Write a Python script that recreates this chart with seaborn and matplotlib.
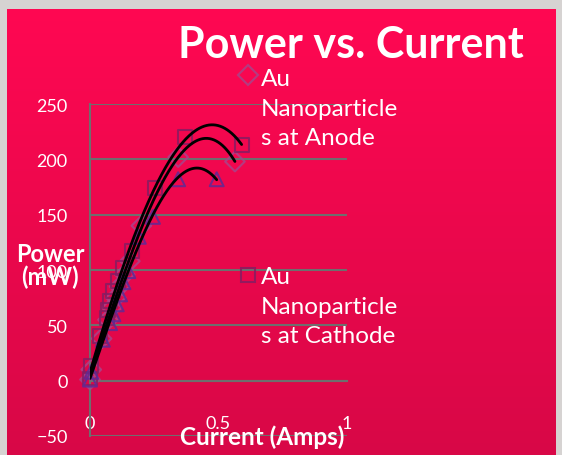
import numpy as np
import pandas as pd
import matplotlib.pyplot as plt
import seaborn as sns
from matplotlib.lines import Line2D
from matplotlib.colors import LinearSegmentedColormap

# data (current in A, power in mW)
anode_x = [0.0, 0.005, 0.045, 0.07, 0.085, 0.1, 0.115, 0.135, 0.155, 0.2, 0.343, 0.564]
anode_y = [1, 10, 38, 55, 66, 75, 85, 96, 108, 140, 202, 198]
cathode_x = [0.0, 0.005, 0.039, 0.065, 0.071, 0.078, 0.091, 0.11, 0.13, 0.162, 0.253, 0.37, 0.59]
cathode_y = [2, 13, 40, 57, 64, 72, 81, 90, 102, 117, 174, 220, 213]
third_x = [0.0, 0.005, 0.05, 0.078, 0.091, 0.104, 0.117, 0.13, 0.149, 0.19, 0.245, 0.343, 0.493]
third_y = [1, 8, 37, 52, 60, 69, 78, 89, 99, 130, 148, 182, 182]

x_ticks = [0, 0.5, 1]
y_ticks = [-50, 0, 50, 100, 150, 200, 250]

sns.set_style("white")
plt.rcParams['font.family'] = ['Lato', 'DejaVu Sans']

W, H = 562, 456
fig = plt.figure(figsize=(W / 100, H / 100), dpi=100)
fig.patch.set_facecolor('#d6d3d2')

# pink panel with a soft vertical gradient
bg = fig.add_axes([7 / W, 0, 549 / W, 446 / H], zorder=0)
grad = np.linspace(0, 1, 256).reshape(-1, 1)
cmap = LinearSegmentedColormap.from_list('panel', ['#ff0752', '#d80847'])
bg.imshow(grad, aspect='auto', cmap=cmap, extent=[0, 1, 0, 1], origin='upper')
bg.axis('off')

ax = fig.add_axes([90 / W, 19 / H, 257 / W, 332 / H], zorder=1)
ax.set_facecolor('none')

grid_c = '#6e6e6e'
series = [
    (anode_x, anode_y, 'D', '#a8458a'),
    (cathode_x, cathode_y, 's', '#861d62'),
    (third_x, third_y, '^', '#5e2a96'),
]
for xs, ys, mk, col in series:
    df = pd.DataFrame({'I': xs, 'P': ys})
    sns.scatterplot(data=df, x='I', y='P', marker=mk, s=100, facecolor='none',
                    edgecolor=col, linewidth=1.5, alpha=0.85, ax=ax, clip_on=False, zorder=3)
    # polynomial trendline
    coef = np.polyfit(xs, ys, 3)
    xf = np.linspace(min(xs), max(xs), 200)
    fit = pd.DataFrame({'I': xf, 'P': np.polyval(coef, xf)})
    sns.lineplot(data=fit, x='I', y='P', color='black', lw=2, ax=ax, zorder=4)

ax.set_xlim(0, 1)
ax.set_ylim(-50, 250)
ax.set_xticks(x_ticks)
ax.set_xticklabels(['0', '0.5', '1'])
ax.set_yticks(y_ticks)
ax.grid(axis='y', color=grid_c, lw=1.5)
ax.grid(axis='x', visible=False)
for s in ['top', 'right']:
    ax.spines[s].set_visible(False)
ax.spines['left'].set_color(grid_c)
ax.spines['left'].set_linewidth(1.5)
ax.spines['bottom'].set_position(('data', 0))
ax.spines['bottom'].set_color(grid_c)
ax.spines['bottom'].set_linewidth(1.5)
ax.tick_params(axis='x', direction='out', length=5, width=1.5, color=grid_c,
               labelcolor='white', labelsize=13, pad=20)
ax.tick_params(axis='y', direction='out', length=7, width=1.5, color=grid_c,
               labelcolor='white', labelsize=13, pad=9)
ax.set_xlabel('')
ax.set_ylabel('')

# titles and axis labels
fig.text(351 / W, 1 - 45 / H, 'Power vs. Current', ha='center', va='center',
         fontsize=31, fontweight='bold', color='white')
fig.text(50 / W, 1 - 266 / H, 'Power\n(mW)', ha='center', va='center',
         fontsize=17, fontweight='bold', color='white', linespacing=1.0, zorder=5)
fig.text(262 / W, 1 - 437 / H, 'Current (Amps)', ha='center', va='center',
         fontsize=17.5, fontweight='bold', color='white', zorder=5)

# legend drawn by hand: marker beside first line of a wrapped label
legend_items = [
    ('Au\nNanoparticle\ns at Anode', 'D', '#a8458a', 76, 69),
    ('Au\nNanoparticle\ns at Cathode', 's', '#861d62', 276, 267),
]
for label, mk, col, my, ty in legend_items:
    fig.add_artist(Line2D([248 / W], [1 - my / H], marker=mk, markersize=10,
                          markerfacecolor='none', markeredgecolor=col, markeredgewidth=1.5,
                          alpha=0.85, transform=fig.transFigure))
    fig.text(261 / W, 1 - ty / H, label, ha='left', va='top', fontsize=17.5,
             color='white', linespacing=1.5)

fig.savefig('out.png', dpi=100, facecolor=fig.get_facecolor())
